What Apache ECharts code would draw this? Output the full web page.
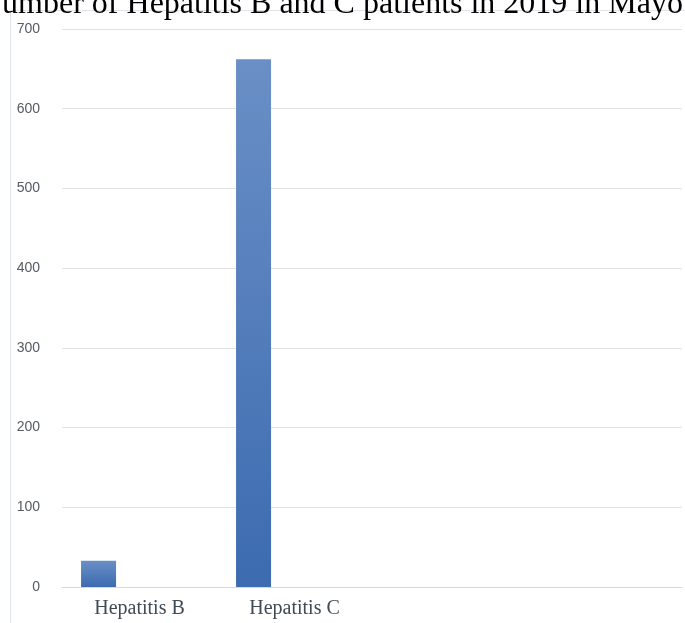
<!DOCTYPE html>
<html>
<head>
<meta charset="utf-8">
<style>
  html, body { margin: 0; padding: 0; background: #ffffff; }
  #chart { width: 685px; height: 623px; }
</style>
<script src="https://cdn.jsdelivr.net/npm/echarts@6/dist/echarts.min.js"></script>
</head>
<body>
<div id="chart"></div>
<script>
// Patients per disease, 2019
const categories = ['Hepatitis B', 'Hepatitis C', '', ''];
const patients = [33, 662, null, null];
const emptySeries = [null, null, null, null];
const yTicks = [0, 100, 200, 300, 400, 500, 600, 700];
const titleText = 'Number of Hepatitis B and C patients in 2019 in Mayo';

const barFill = new echarts.graphic.LinearGradient(0, 0, 0, 1, [
  { offset: 0, color: '#6a8fc6' },
  { offset: 1, color: '#3c6bb0' }
]);

const chart = echarts.init(document.getElementById('chart'), null, { renderer: 'canvas' });

chart.setOption({
  animation: false,
  backgroundColor: '#ffffff',
  graphic: [
    {
      type: 'rect',
      shape: { x: 10.5, y: 10.5, width: 700, height: 640 },
      style: { fill: 'none', stroke: '#dfe5ea', lineWidth: 1 },
      z: 0
    },
    {
      type: 'text',
      x: -21,
      y: -11,
      style: {
        text: titleText,
        font: '32px "Liberation Serif", "Times New Roman", serif',
        fill: '#000000',
        verticalAlign: 'top'
      },
      z: 10
    }
  ],
  grid: { left: 62, right: 3, top: 29, bottom: 36, containLabel: false },
  xAxis: {
    type: 'category',
    data: categories,
    axisLine: { show: true, lineStyle: { color: '#d9d9d9', width: 1 } },
    axisTick: { show: false },
    axisLabel: {
      margin: 12,
      color: '#404a55',
      fontFamily: '"Liberation Serif", "DejaVu Serif", serif',
      fontSize: 20
    },
    splitLine: { show: false }
  },
  yAxis: {
    type: 'value',
    min: yTicks[0],
    max: yTicks[yTicks.length - 1],
    interval: 100,
    axisLine: { show: false },
    axisTick: { show: false },
    axisLabel: {
      margin: 22,
      color: '#555b63',
      fontFamily: '"Liberation Sans", "Noto Sans", sans-serif',
      fontSize: 14
    },
    splitLine: { show: true, lineStyle: { color: '#e3e3e3', width: 1 } }
  },
  series: [
    {
      name: 'Patients',
      type: 'bar',
      data: patients,
      barWidth: 35,
      barGap: '17%',
      itemStyle: { color: barFill }
    },
    { name: 'Series 2', type: 'bar', data: emptySeries, barWidth: 35 },
    { name: 'Series 3', type: 'bar', data: emptySeries, barWidth: 35 }
  ]
});
</script>
</body>
</html>
